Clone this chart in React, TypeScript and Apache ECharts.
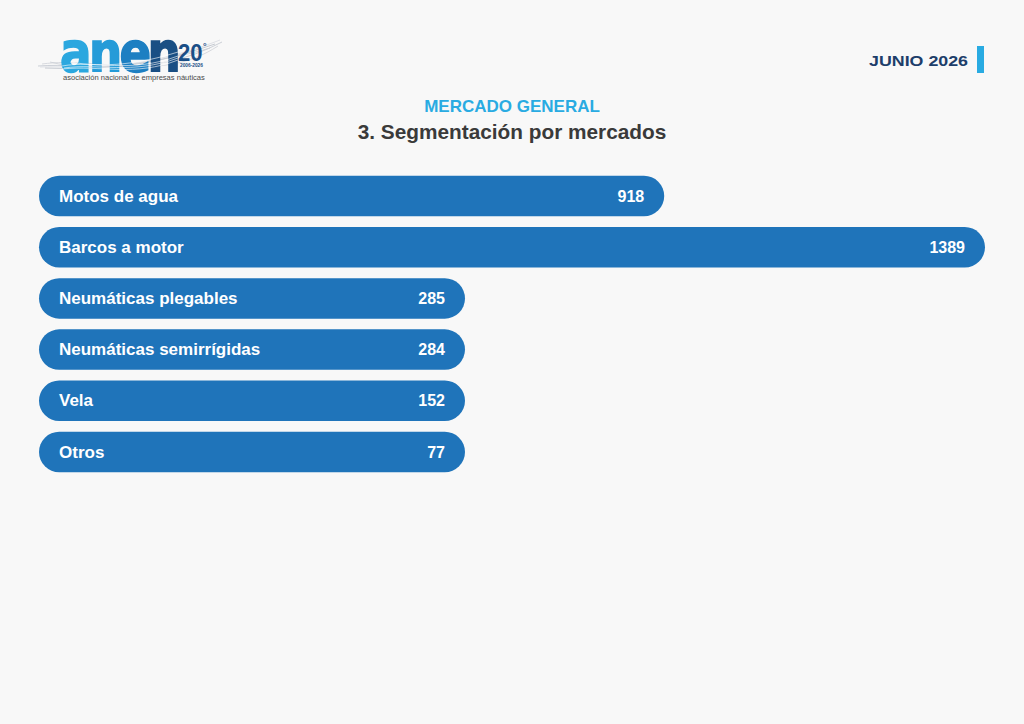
import React, { useEffect, useRef } from "react";
import * as echarts from "echarts";

const categories = [
  "Motos de agua",
  "Barcos a motor",
  "Neumáticas plegables",
  "Neumáticas semirrígidas",
  "Vela",
  "Otros",
];
const values = [918, 1389, 285, 284, 152, 77];

const headerTitle = "MERCADO GENERAL";
const headerSubtitle = "3. Segmentación por mercados";
const dateLabel = "JUNIO 2026";

const FONT = "'Liberation Sans', Arial, Helvetica, sans-serif";
const LOGO_FONT = "'DejaVu Sans', 'Liberation Sans', sans-serif";

export default function App() {
  const ref = useRef<HTMLDivElement>(null);

  useEffect(() => {
    if (!ref.current) return;
    const chart = echarts.init(ref.current, null, { renderer: "svg" });

    const waves = [
      { x1: 38, y1: 66, cpx1: 90, cpy1: 62, cpx2: 150, cpy2: 80, x2: 222, y2: 42, stroke: "#b9bfc8" },
      { x1: 42, y1: 64, cpx1: 100, cpy1: 56, cpx2: 160, cpy2: 84, x2: 218, y2: 46, stroke: "#c8ccd3" },
      { x1: 45, y1: 68, cpx1: 110, cpy1: 70, cpx2: 150, cpy2: 66, x2: 215, y2: 44, stroke: "#b0b6c0" },
      { x1: 50, y1: 62, cpx1: 95, cpy1: 74, cpx2: 170, cpy2: 60, x2: 210, y2: 48, stroke: "#c6cad1" },
      { x1: 40, y1: 67, cpx1: 80, cpy1: 66, cpx2: 140, cpy2: 72, x2: 220, y2: 40, stroke: "#d2d6dc" },
    ];
    const whiteWaves = [
      { x1: 62, y1: 66, cpx1: 95, cpy1: 60, cpx2: 130, cpy2: 74, x2: 178, y2: 56 },
      { x1: 62, y1: 69, cpx1: 100, cpy1: 65, cpx2: 135, cpy2: 77, x2: 178, y2: 60 },
      { x1: 70, y1: 62, cpx1: 105, cpy1: 68, cpx2: 140, cpy2: 64, x2: 178, y2: 52 },
      { x1: 64, y1: 68, cpx1: 98, cpy1: 63, cpx2: 132, cpy2: 75, x2: 178, y2: 58 },
    ];
    const logoLetters = [
      { ch: "a", x: 60, color: "#2ba7df" },
      { ch: "n", x: 89, color: "#259bd8" },
      { ch: "e", x: 119.5, color: "#1d7fc2" },
      { ch: "n", x: 147.5, color: "#1a4f84" },
    ];

    chart.setOption({
      animation: false,
      backgroundColor: "#f8f8f8",
      grid: { left: 39, right: 39, top: 170.4, height: 307.2, containLabel: false },
      xAxis: {
        type: "value",
        min: 0,
        max: "dataMax",
        show: false,
      },
      yAxis: {
        type: "category",
        data: categories,
        inverse: true,
        show: false,
      },
      series: [
        {
          type: "bar",
          data: values,
          barWidth: 40.5,
          barMinHeight: 426,
          itemStyle: { color: "#1f74ba", borderRadius: 20.25 },
          label: {
            show: true,
            position: "insideRight",
            distance: 20,
            formatter: "{c}",
            color: "#ffffff",
            fontFamily: FONT,
            fontWeight: "bold",
            fontSize: 16,
          },
          silent: true,
        },
        {
          type: "bar",
          data: values,
          barWidth: 40.5,
          barGap: "-100%",
          barMinHeight: 426,
          itemStyle: { color: "rgba(0,0,0,0)" },
          label: {
            show: true,
            position: "insideLeft",
            distance: 20,
            formatter: "{b}",
            color: "#ffffff",
            fontFamily: FONT,
            fontWeight: "bold",
            fontSize: 17,
          },
          silent: true,
        },
      ],
      graphic: [
        // logo waves
        ...waves.map((w) => ({
          type: "bezierCurve",
          shape: { x1: w.x1, y1: w.y1, cpx1: w.cpx1, cpy1: w.cpy1, cpx2: w.cpx2, cpy2: w.cpy2, x2: w.x2, y2: w.y2 },
          style: { stroke: w.stroke, lineWidth: 0.7, fill: null },
          silent: true,
        })),
        ...logoLetters.map((l) => ({
          type: "text",
          x: l.x,
          y: 80,
          scaleX: 0.85,
          style: {
            text: l.ch,
            fontFamily: LOGO_FONT,
            fontWeight: "bold",
            fontSize: 55,
            verticalAlign: "bottom",
            fill: l.color,
            stroke: l.color,
            lineWidth: 1.6,
          },
          silent: true,
        })),
        ...whiteWaves.map((w) => ({
          type: "bezierCurve",
          shape: { x1: w.x1, y1: w.y1, cpx1: w.cpx1, cpy1: w.cpy1, cpx2: w.cpx2, cpy2: w.cpy2, x2: w.x2, y2: w.y2 },
          style: { stroke: "rgba(255,255,255,0.75)", lineWidth: 0.8, fill: null },
          silent: true,
        })),
        {
          type: "text",
          x: 178,
          y: 64.5,
          scaleX: 0.92,
          style: {
            text: "20",
            fontFamily: FONT,
            fontWeight: "bold",
            fontSize: 24,
            verticalAlign: "bottom",
            fill: "#1a4e86",
          },
          silent: true,
        },
        {
          type: "text",
          x: 203,
          y: 41,
          style: { text: "°", fontFamily: FONT, fontWeight: "bold", fontSize: 9, fill: "#1a4e86" },
          silent: true,
        },
        {
          type: "text",
          x: 180,
          y: 63,
          style: { text: "2006-2026", fontFamily: FONT, fontWeight: "bold", fontSize: 4.8, fill: "#1a4e86" },
          silent: true,
        },
        {
          type: "text",
          x: 63,
          y: 73.5,
          style: {
            text: "asociación nacional de empresas náuticas",
            fontFamily: FONT,
            fontSize: 7.55,
            fill: "#4a4a4a",
          },
          silent: true,
        },
        // date header
        {
          type: "text",
          x: 968,
          y: 60.5,
          scaleX: 1.15,
          style: {
            text: dateLabel,
            fontFamily: FONT,
            fontWeight: "bold",
            fontSize: 15.5,
            align: "right",
            verticalAlign: "middle",
            fill: "#1d3e6a",
          },
          silent: true,
        },
        {
          type: "rect",
          shape: { x: 977, y: 46, width: 7, height: 27 },
          style: { fill: "#29abe2" },
          silent: true,
        },
        // titles
        {
          type: "text",
          x: 512,
          y: 106.5,
          style: {
            text: headerTitle,
            fontFamily: FONT,
            fontWeight: "bold",
            fontSize: 17,
            align: "center",
            verticalAlign: "middle",
            fill: "#29abe2",
          },
          silent: true,
        },
        {
          type: "text",
          x: 512,
          y: 131,
          style: {
            text: headerSubtitle,
            fontFamily: FONT,
            fontWeight: "bold",
            fontSize: 20.8,
            align: "center",
            verticalAlign: "middle",
            fill: "#3a3a3a",
          },
          silent: true,
        },
      ],
    });

    return () => chart.dispose();
  }, []);

  return (
    <div
      ref={ref}
      style={{ position: "fixed", left: 0, top: 0, width: 1024, height: 724 }}
    />
  );
}
